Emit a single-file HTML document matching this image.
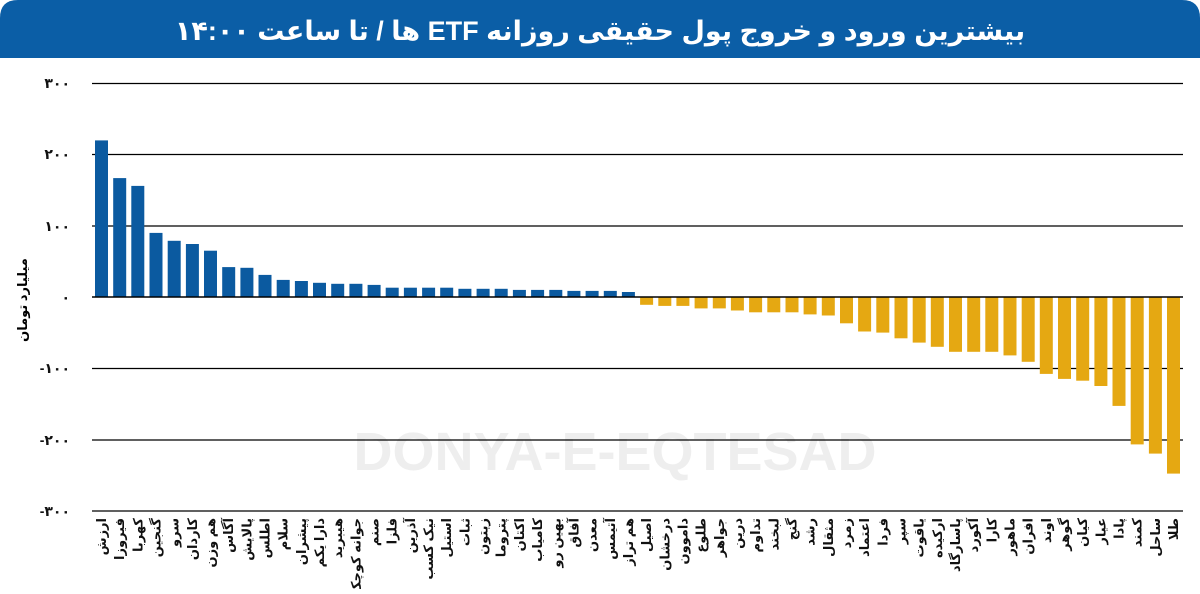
<!DOCTYPE html>
<html><head><meta charset="utf-8"><style>
html,body{margin:0;padding:0;background:#fff;}
body{width:1200px;height:589px;overflow:hidden;}
text{font-family:"Liberation Sans","Noto Sans CJK SC","DejaVu Sans",sans-serif;}
</style></head><body>
<svg width="1200" height="589" viewBox="0 0 1200 589" xmlns="http://www.w3.org/2000/svg">
<path d="M0,58 L0,18 Q0,0 18,0 L1182,0 Q1200,0 1200,18 L1200,58 Z" fill="#0b5ea6"/>
<text x="600" y="40" text-anchor="middle" direction="rtl" unicode-bidi="embed" fill="#fff" font-size="27" font-weight="bold">بیشترین ورود و خروج پول حقیقی روزانه ETF ها / تا ساعت ۱۴:۰۰</text>
<text x="615" y="470" text-anchor="middle" fill="#eeeeee" font-size="54" font-weight="bold">DONYA-E-EQTESAD</text>
<g stroke="#000" stroke-width="1.3">
<line x1="92" y1="83.5" x2="1183" y2="83.5"/><line x1="92" y1="154.5" x2="1183" y2="154.5"/><line x1="92" y1="226" x2="1183" y2="226"/>
<line x1="92" y1="368.5" x2="1183" y2="368.5"/><line x1="92" y1="440" x2="1183" y2="440"/><line x1="92" y1="511" x2="1183" y2="511"/>
</g>
<g font-size="14" font-weight="bold" text-anchor="end" fill="#111">
<text x="70" y="88">۳۰۰</text><text x="70" y="159">۲۰۰</text><text x="70" y="231">۱۰۰</text><text x="70" y="302">۰</text>
<text x="70" y="373">-۱۰۰</text><text x="70" y="445">-۲۰۰</text><text x="70" y="516">-۳۰۰</text>
</g>
<text transform="translate(27,300) rotate(-90)" text-anchor="middle" font-size="13" font-weight="bold">میلیارد تومان</text>
<g fill="#0b5aa0">
<rect x="95" y="140.4" width="13" height="156.6"/><rect x="113.2" y="178.1" width="13" height="118.9"/><rect x="131.3" y="185.9" width="13" height="111.1"/><rect x="149.5" y="232.9" width="13" height="64.1"/><rect x="167.7" y="240.8" width="13" height="56.2"/><rect x="185.9" y="244" width="13" height="53"/><rect x="204" y="250.7" width="13" height="46.3"/><rect x="222.2" y="267.1" width="13" height="29.9"/><rect x="240.4" y="267.8" width="13" height="29.2"/><rect x="258.5" y="274.9" width="13" height="22.1"/><rect x="276.7" y="279.9" width="13" height="17.1"/><rect x="294.9" y="281" width="13" height="16"/><rect x="313" y="282.8" width="13" height="14.2"/><rect x="331.2" y="283.8" width="13" height="13.2"/><rect x="349.4" y="283.8" width="13" height="13.2"/><rect x="367.6" y="284.9" width="13" height="12.1"/><rect x="385.7" y="287.7" width="13" height="9.3"/><rect x="403.9" y="287.7" width="13" height="9.3"/><rect x="422.1" y="287.7" width="13" height="9.3"/><rect x="440.2" y="287.7" width="13" height="9.3"/><rect x="458.4" y="288.8" width="13" height="8.2"/><rect x="476.6" y="288.8" width="13" height="8.2"/><rect x="494.7" y="288.8" width="13" height="8.2"/><rect x="512.9" y="289.9" width="13" height="7.1"/><rect x="531.1" y="289.9" width="13" height="7.1"/><rect x="549.3" y="289.9" width="13" height="7.1"/><rect x="567.4" y="290.9" width="13" height="6.1"/><rect x="585.6" y="290.9" width="13" height="6.1"/><rect x="603.8" y="290.9" width="13" height="6.1"/><rect x="621.9" y="292" width="13" height="5"/>
</g>
<g fill="#e5a812">
<rect x="640.1" y="297" width="13" height="7.8"/><rect x="658.3" y="297" width="13" height="8.9"/><rect x="676.4" y="297" width="13" height="8.9"/><rect x="694.6" y="297" width="13" height="11.4"/><rect x="712.8" y="297" width="13" height="11.4"/><rect x="730.9" y="297" width="13" height="13.5"/><rect x="749.1" y="297" width="13" height="15.3"/><rect x="767.3" y="297" width="13" height="15.3"/><rect x="785.5" y="297" width="13" height="15.3"/><rect x="803.6" y="297" width="13" height="17.4"/><rect x="821.8" y="297" width="13" height="18.5"/><rect x="840" y="297" width="13" height="26.3"/><rect x="858.1" y="297" width="13" height="34.5"/><rect x="876.3" y="297" width="13" height="35.6"/><rect x="894.5" y="297" width="13" height="41.3"/><rect x="912.7" y="297" width="13" height="45.6"/><rect x="930.8" y="297" width="13" height="49.8"/><rect x="949" y="297" width="13" height="54.8"/><rect x="967.2" y="297" width="13" height="54.8"/><rect x="985.3" y="297" width="13" height="54.8"/><rect x="1003.5" y="297" width="13" height="58.4"/><rect x="1021.7" y="297" width="13" height="64.8"/><rect x="1039.8" y="297" width="13" height="76.9"/><rect x="1058" y="297" width="13" height="81.9"/><rect x="1076.2" y="297" width="13" height="83.7"/><rect x="1094.4" y="297" width="13" height="89"/><rect x="1112.5" y="297" width="13" height="108.9"/><rect x="1130.7" y="297" width="13" height="147.4"/><rect x="1148.9" y="297" width="13" height="156.6"/><rect x="1167" y="297" width="13" height="176.6"/>
</g>
<line x1="92" y1="297" x2="1183" y2="297" stroke="#000" stroke-width="1.5"/>
<g font-size="13" font-weight="bold" text-anchor="end" fill="#111">
<text transform="translate(106,518) rotate(-90)">ارزش</text>
<text transform="translate(124.2,518) rotate(-90)">فیروزا</text>
<text transform="translate(142.3,518) rotate(-90)">کهربا</text>
<text transform="translate(160.5,518) rotate(-90)">گنجین</text>
<text transform="translate(178.7,518) rotate(-90)">سرو</text>
<text transform="translate(196.9,518) rotate(-90)">کاردان</text>
<text transform="translate(215,518) rotate(-90)">هم وزن</text>
<text transform="translate(233.2,518) rotate(-90)">آگاس</text>
<text transform="translate(251.4,518) rotate(-90)">پالایش</text>
<text transform="translate(269.5,518) rotate(-90)">اطلس</text>
<text transform="translate(287.7,518) rotate(-90)">سلام</text>
<text transform="translate(305.9,518) rotate(-90)">پیشران</text>
<text transform="translate(324,518) rotate(-90)">دارا یکم</text>
<text transform="translate(342.2,518) rotate(-90)">هیبرید</text>
<text transform="translate(360.4,518) rotate(-90)">جوانه کوچک</text>
<text transform="translate(378.6,518) rotate(-90)">صنم</text>
<text transform="translate(396.7,518) rotate(-90)">فلزا</text>
<text transform="translate(414.9,518) rotate(-90)">آذرین</text>
<text transform="translate(433.1,518) rotate(-90)">نیک کسب</text>
<text transform="translate(451.2,518) rotate(-90)">استیل</text>
<text transform="translate(469.4,518) rotate(-90)">ثبات</text>
<text transform="translate(487.6,518) rotate(-90)">زیتون</text>
<text transform="translate(505.7,518) rotate(-90)">پتروما</text>
<text transform="translate(523.9,518) rotate(-90)">اکتان</text>
<text transform="translate(542.1,518) rotate(-90)">کامیاب</text>
<text transform="translate(560.3,518) rotate(-90)">بهین رو</text>
<text transform="translate(578.4,518) rotate(-90)">آفاق</text>
<text transform="translate(596.6,518) rotate(-90)">معدن</text>
<text transform="translate(614.8,518) rotate(-90)">آتیمس</text>
<text transform="translate(632.9,518) rotate(-90)">هم تراز</text>
<text transform="translate(651.1,518) rotate(-90)">اصیل</text>
<text transform="translate(669.3,518) rotate(-90)">درخشان</text>
<text transform="translate(687.4,518) rotate(-90)">داموون</text>
<text transform="translate(705.6,518) rotate(-90)">طلوع</text>
<text transform="translate(723.8,518) rotate(-90)">جواهر</text>
<text transform="translate(741.9,518) rotate(-90)">درین</text>
<text transform="translate(760.1,518) rotate(-90)">تداوم</text>
<text transform="translate(778.3,518) rotate(-90)">لبخند</text>
<text transform="translate(796.5,518) rotate(-90)">گنج</text>
<text transform="translate(814.6,518) rotate(-90)">رشد</text>
<text transform="translate(832.8,518) rotate(-90)">مثقال</text>
<text transform="translate(851,518) rotate(-90)">زمرد</text>
<text transform="translate(869.1,518) rotate(-90)">اعتماد</text>
<text transform="translate(887.3,518) rotate(-90)">فردا</text>
<text transform="translate(905.5,518) rotate(-90)">سپر</text>
<text transform="translate(923.7,518) rotate(-90)">یاقوت</text>
<text transform="translate(941.8,518) rotate(-90)">ارکیده</text>
<text transform="translate(960,518) rotate(-90)">پاسارگاد</text>
<text transform="translate(978.2,518) rotate(-90)">آکورد</text>
<text transform="translate(996.3,518) rotate(-90)">کارا</text>
<text transform="translate(1014.5,518) rotate(-90)">ماهور</text>
<text transform="translate(1032.7,518) rotate(-90)">افران</text>
<text transform="translate(1050.8,518) rotate(-90)">اوند</text>
<text transform="translate(1069,518) rotate(-90)">گوهر</text>
<text transform="translate(1087.2,518) rotate(-90)">کیان</text>
<text transform="translate(1105.4,518) rotate(-90)">عیار</text>
<text transform="translate(1123.5,518) rotate(-90)">پادا</text>
<text transform="translate(1141.7,518) rotate(-90)">کمند</text>
<text transform="translate(1159.9,518) rotate(-90)">ساحل</text>
<text transform="translate(1178,518) rotate(-90)">طلا</text>
</g>
</svg>
</body></html>
